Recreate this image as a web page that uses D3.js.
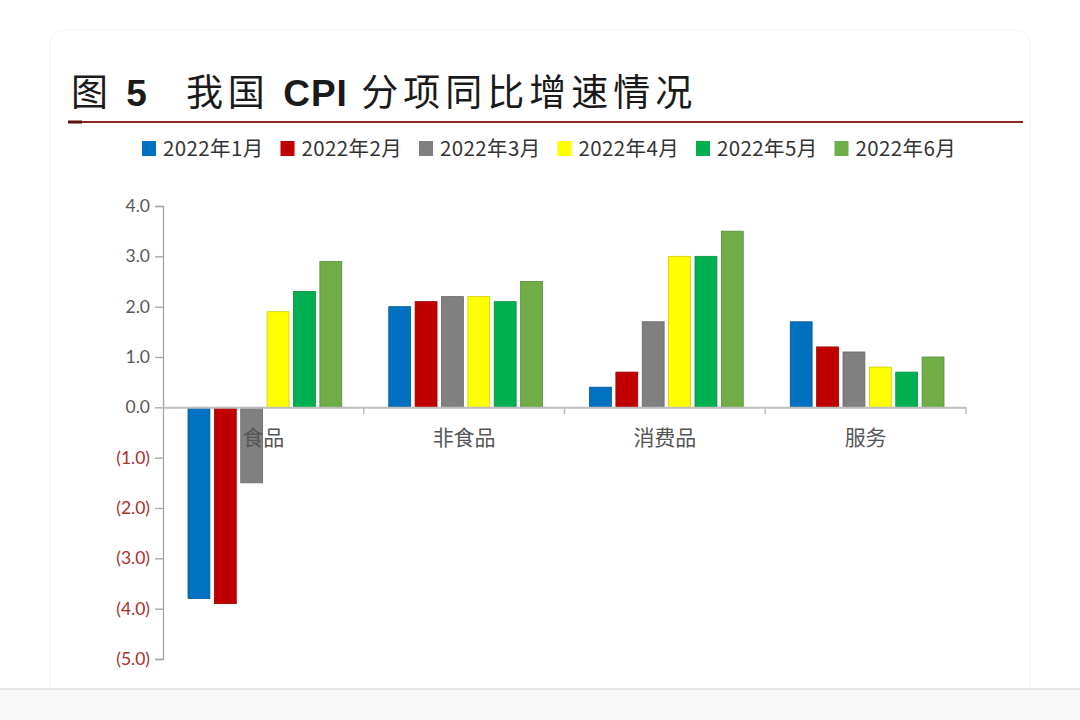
<!DOCTYPE html>
<html lang="zh">
<head>
<meta charset="UTF-8">
<title>我国CPI分项同比增速情况</title>
<script src="https://d3js.org/d3.v7.min.js"></script>
<style>
  body { margin: 0; background: #fff; }
  svg { display: block; }
  .title { font-family: "Noto Sans CJK SC", sans-serif; font-size: 37px; fill: #1a1a1a; letter-spacing: 5px; }
  .legend text { font-family: "Noto Sans CJK SC", sans-serif; font-size: 20.5px; fill: #333; letter-spacing: 0.4px; }
  .ytick text { font-family: Lato, "Open Sans", sans-serif; font-size: 17.5px; }
  .cat-label { font-family: "Noto Sans CJK SC", sans-serif; font-size: 21px; fill: #555; }
</style>
</head>
<body>
<div id="chart"></div>
<script>
// categories and series
const categories = ["食品", "非食品", "消费品", "服务"];
const seriesNames = ["2022年1月", "2022年2月", "2022年3月", "2022年4月", "2022年5月", "2022年6月"];
const seriesColors = ["#0070c0", "#c00000", "#808080", "#ffff00", "#00b050", "#70ad47"];
// values per series, in category order
const jan = [-3.8, 2.0, 0.4, 1.7];
const feb = [-3.9, 2.1, 0.7, 1.2];
const mar = [-1.5, 2.2, 1.7, 1.1];
const apr = [1.9, 2.2, 3.0, 0.8];
const may = [2.3, 2.1, 3.0, 0.7];
const jun = [2.9, 2.5, 3.5, 1.0];
const seriesValues = [jan, feb, mar, apr, may, jun];
const yTicks = [4, 3, 2, 1, 0, -1, -2, -3, -4, -5];

const W = 1080, H = 720;
const svg = d3.select("#chart").append("svg").attr("width", W).attr("height", H);

// card background + bottom strip
svg.append("rect").attr("x", 50).attr("y", 30).attr("width", 980).attr("height", 700)
   .attr("rx", 14).attr("fill", "#fff").attr("stroke", "#f3f3f3");
svg.append("rect").attr("x", 0).attr("y", 689).attr("width", W).attr("height", 31).attr("fill", "#f8f8f8");
svg.append("line").attr("x1", 0).attr("x2", W).attr("y1", 689).attr("y2", 689)
   .attr("stroke", "#e6e6e6").attr("stroke-width", 2);

// title
const title = svg.append("text").attr("class", "title").attr("x", 71).attr("y", 106);
title.append("tspan").text("图 ");
title.append("tspan").attr("font-family", "Liberation Sans, Arial, sans-serif").attr("font-weight", "bold").text("5");
title.append("tspan").attr("dx", 34).text("我国 ");
title.append("tspan").attr("font-family", "Liberation Sans, Arial, sans-serif").attr("font-weight", "bold")
     .attr("letter-spacing", "1px").text("CPI");
title.append("tspan").text(" 分项同比增速情况");

svg.append("line").attr("x1", 68).attr("x2", 1023).attr("y1", 122).attr("y2", 122)
   .attr("stroke", "#8b2a22").attr("stroke-width", 2);
svg.append("line").attr("x1", 68).attr("x2", 82).attr("y1", 122).attr("y2", 122)
   .attr("stroke", "#5a1010").attr("stroke-width", 3);

// legend
const legend = svg.append("g").attr("class", "legend");
seriesNames.forEach((name, i) => {
  const g = legend.append("g").attr("transform", `translate(${142 + i * 138.5},148)`);
  g.append("rect").attr("x", 0).attr("y", -7).attr("width", 14).attr("height", 15).attr("fill", seriesColors[i]);
  g.append("text").attr("x", 21).attr("y", 7.5).text(name);
});

// scales
const margin = {left: 163, right: 966, top: 206, bottom: 659};
const y = d3.scaleLinear().domain([-5, 4]).range([margin.bottom, margin.top]);
const x0 = d3.scaleBand().domain(categories).range([margin.left, margin.right]).paddingInner(0).paddingOuter(0);
const x1 = d3.scaleBand().domain(d3.range(seriesNames.length))
  .range([25, x0.bandwidth() - 22]).paddingInner(0.17).paddingOuter(0);

// y axis
const yAxis = d3.axisLeft(y).tickValues(yTicks).tickSize(8).tickPadding(5)
  .tickFormat(d => d < 0 ? `(${d3.format(".1f")(-d)})` : d3.format(".1f")(d));
const yg = svg.append("g").attr("class", "ytick").attr("transform", `translate(${margin.left},0)`).call(yAxis);
yg.select(".domain").attr("stroke", "#a6a6a6").attr("stroke-width", 1.3);
yg.selectAll(".tick line").attr("stroke", "#a6a6a6").attr("stroke-width", 1.3);
yg.selectAll(".tick text").attr("fill", d => d < 0 ? "#a8302c" : "#595959");

// bars
const data = [];
categories.forEach((c, ci) => seriesValues.forEach((vals, si) => data.push({c, si, v: vals[ci]})));
svg.append("g").selectAll("rect").data(data).join("rect")
  .attr("x", d => x0(d.c) + x1(d.si))
  .attr("width", x1.bandwidth())
  .attr("y", d => y(Math.max(0, d.v)))
  .attr("height", d => Math.abs(y(d.v) - y(0)))
  .attr("fill", d => seriesColors[d.si])
  .attr("stroke", d => d3.color(seriesColors[d.si]).darker(0.6))
  .attr("stroke-width", 0.8);

// category axis at zero
const xAxis = d3.axisBottom(x0).tickSize(0).tickFormat("");
const xg = svg.append("g").attr("transform", `translate(0,${y(0)})`).call(xAxis);
xg.select(".domain").attr("stroke", "#bfbfbf").attr("stroke-width", 2);
const bounds = categories.map(c => x0(c) + x0.bandwidth());
svg.append("g").selectAll("line").data(bounds).join("line")
  .attr("x1", d => d).attr("x2", d => d)
  .attr("y1", y(0)).attr("y2", y(0) + 7)
  .attr("stroke", "#bfbfbf").attr("stroke-width", 1.5);

// category labels
svg.append("g").selectAll("text").data(categories).join("text")
  .attr("class", "cat-label")
  .attr("x", d => x0(d) + x0.bandwidth() / 2)
  .attr("y", y(0) + 38)
  .attr("text-anchor", "middle")
  .text(d => d);
</script>
</body>
</html>
